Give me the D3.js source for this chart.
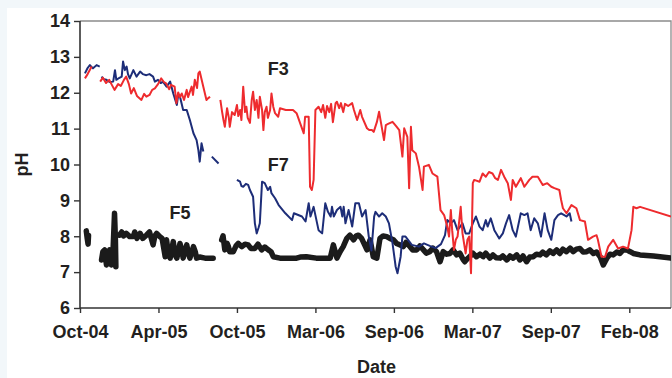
<!DOCTYPE html>
<html><head><meta charset="utf-8">
<script src="https://cdn.jsdelivr.net/npm/d3@7"></script>
<style>
body{margin:0;background:#f2f7fa;}
svg{display:block;font-family:"Liberation Sans",Arial,sans-serif;}
</style>
</head><body>
<svg id="chart" width="672" height="378"></svg>
<script>
// ---------- data ----------
const yTicks = [6, 7, 8, 9, 10, 11, 12, 13, 14];
const xTickDates = ["2004-10-18","2005-04-11","2005-10-03","2006-03-27","2006-09-18","2007-03-12","2007-09-03","2008-02-25"];
const xTickLabels = ["Oct-04","Apr-05","Oct-05","Mar-06","Sep-06","Mar-07","Sep-07","Feb-08"];
const xDomain = ["2004-10-18","2008-05-28"];
const yDomain = [6, 14];

// null marks a gap in the record
const f3 = [
["2004-10-29",12.40],["2004-11-04",12.52],["2004-11-13",12.73],["2004-11-20",null],
["2004-12-02",12.31],["2004-12-08",12.42],["2004-12-15",12.27],["2004-12-22",12.36],["2004-12-28",12.22],
["2005-01-03",12.08],["2005-01-11",12.24],["2005-01-17",12.19],["2005-01-24",12.36],["2005-01-29",12.45],
["2005-02-04",12.24],["2005-02-09",11.98],["2005-02-15",12.13],["2005-02-22",11.91],["2005-03-04",11.80],
["2005-03-10",11.97],["2005-03-15",11.89],["2005-03-22",11.94],["2005-03-28",12.08],["2005-04-03",12.12],
["2005-04-10",12.24],["2005-04-17",12.40],["2005-04-23",12.30],["2005-04-28",12.26],["2005-05-05",12.10],
["2005-05-09",12.22],["2005-05-17",12.17],["2005-05-21",11.71],["2005-05-25",12.01],["2005-05-29",11.88],
["2005-06-02",11.98],["2005-06-07",11.80],["2005-06-13",12.08],["2005-06-16",11.88],["2005-06-24",12.17],
["2005-06-27",11.94],["2005-07-01",12.36],["2005-07-06",12.13],["2005-07-09",12.54],["2005-07-12",12.59],
["2005-07-20",12.17],["2005-07-27",11.80],["2005-07-31",11.85],["2005-08-04",11.89],["2005-08-15",null],
["2005-08-27",11.80],["2005-08-31",11.46],["2005-09-03",11.24],["2005-09-06",11.05],["2005-09-11",11.57],
["2005-09-15",11.30],["2005-09-17",11.05],["2005-09-22",11.46],["2005-09-28",11.38],["2005-10-03",11.66],
["2005-10-06",11.35],["2005-10-10",11.52],["2005-10-13",11.24],["2005-10-17",12.17],["2005-10-21",11.46],
["2005-10-24",11.61],["2005-10-27",11.30],["2005-11-01",11.16],["2005-11-05",11.80],["2005-11-08",12.03],
["2005-11-12",11.52],["2005-11-16",11.80],["2005-11-20",11.30],["2005-11-23",11.89],["2005-11-28",11.52],
["2005-12-01",10.96],["2005-12-04",11.46],["2005-12-08",11.61],["2005-12-11",11.30],["2005-12-16",11.52],
["2005-12-19",11.98],["2005-12-23",11.61],["2005-12-27",11.43],["2006-01-03",11.33],["2006-01-07",11.57],
["2006-01-20",11.52],["2006-02-05",11.52],["2006-02-13",11.43],["2006-03-01",10.87],["2006-03-04",11.33],
["2006-03-12",11.33],["2006-03-15",9.38],["2006-03-19",9.29],["2006-03-23",9.57],["2006-03-27",11.52],
["2006-04-03",11.61],["2006-04-09",11.46],["2006-04-13",11.66],["2006-04-18",11.30],["2006-04-22",11.63],
["2006-04-27",11.46],["2006-05-01",11.69],["2006-05-05",11.18],["2006-05-11",11.71],["2006-05-14",11.75],
["2006-05-19",11.57],["2006-05-23",11.71],["2006-05-28",11.46],["2006-06-01",11.69],["2006-06-08",11.63],
["2006-06-17",11.71],["2006-06-21",11.52],["2006-06-28",11.24],["2006-07-05",11.52],["2006-07-09",11.33],
["2006-07-20",11.01],["2006-07-25",10.96],["2006-07-31",10.96],["2006-08-04",10.91],["2006-08-11",11.18],
["2006-08-16",11.47],["2006-08-20",11.18],["2006-08-27",10.68],["2006-08-31",11.10],["2006-09-05",11.13],
["2006-09-15",11.19],["2006-09-23",11.07],["2006-09-30",10.96],["2006-10-07",10.22],["2006-10-11",11.01],
["2006-10-18",10.77],["2006-10-22",9.34],["2006-10-26",11.05],["2006-10-29",10.40],["2006-11-06",10.31],
["2006-11-13",9.94],["2006-11-21",9.29],["2006-11-24",9.94],["2006-12-05",9.99],["2006-12-13",9.75],
["2006-12-24",9.66],["2006-12-31",8.73],["2007-01-08",8.59],["2007-01-15",8.27],["2007-01-19",7.99],
["2007-01-23",8.73],["2007-01-26",8.17],["2007-01-30",7.62],["2007-02-03",7.90],["2007-02-07",7.99],
["2007-02-14",8.82],["2007-02-18",8.08],["2007-02-25",7.52],["2007-03-01",7.90],["2007-03-05",7.99],
["2007-03-09",6.97],["2007-03-13",9.48],["2007-03-16",9.57],["2007-03-28",9.52],["2007-04-04",9.75],
["2007-04-11",9.66],["2007-04-18",9.79],["2007-04-26",9.75],["2007-05-02",9.62],["2007-05-08",9.57],
["2007-05-15",9.85],["2007-05-22",9.66],["2007-05-30",9.48],["2007-06-06",9.01],["2007-06-10",9.57],
["2007-06-17",9.38],["2007-06-28",9.62],["2007-07-06",9.38],["2007-07-17",9.57],["2007-07-24",9.66],
["2007-08-05",9.66],["2007-08-16",9.43],["2007-08-26",9.48],["2007-09-04",9.38],["2007-09-11",9.34],
["2007-09-22",9.29],["2007-09-26",9.01],["2007-09-30",8.78],["2007-10-08",8.64],["2007-10-19",8.87],
["2007-10-30",8.78],["2007-11-07",8.45],["2007-11-18",8.41],["2007-11-25",7.90],["2007-12-06",7.99],
["2007-12-14",8.03],["2007-12-17",7.90],["2007-12-25",7.43],["2008-01-02",7.43],["2008-01-09",7.71],
["2008-01-20",7.90],["2008-01-31",7.66],["2008-02-11",7.71],["2008-02-22",7.66],["2008-03-01",8.17],
["2008-03-05",8.82],["2008-03-12",8.78],["2008-03-20",8.82],["2008-05-28",8.55]
];

const f7 = [
["2004-10-29",12.54],["2004-11-04",12.69],["2004-11-09",12.77],["2004-11-16",12.68],["2004-11-24",12.77],
["2004-12-01",12.73],["2004-12-03",null],
["2004-12-05",12.45],["2004-12-10",12.38],["2004-12-16",12.36],["2004-12-23",12.30],["2004-12-31",12.31],
["2005-01-04",12.63],["2005-01-07",12.36],["2005-01-13",12.41],["2005-01-19",12.45],["2005-01-22",12.87],
["2005-01-26",12.63],["2005-01-30",12.73],["2005-02-02",12.52],["2005-02-06",12.40],["2005-02-14",12.63],
["2005-02-21",12.45],["2005-03-01",12.59],["2005-03-07",12.52],["2005-03-15",12.49],["2005-03-22",12.52],
["2005-03-30",12.45],["2005-04-03",12.31],["2005-04-10",12.36],["2005-04-16",12.27],["2005-04-21",12.31],
["2005-04-29",12.17],["2005-05-07",12.31],["2005-05-14",11.98],["2005-05-22",11.66],["2005-05-25",11.94],
["2005-05-29",11.89],["2005-06-05",11.52],["2005-06-13",11.52],["2005-06-20",11.24],["2005-06-28",10.87],
["2005-07-05",10.68],["2005-07-09",10.40],["2005-07-12",10.08],["2005-07-16",10.59],["2005-07-20",10.36],
["2005-07-30",null],
["2005-08-08",10.22],["2005-08-23",10.03],["2005-09-10",null],
["2005-10-03",9.57],["2005-10-10",9.52],["2005-10-13",9.40],["2005-10-17",9.38],["2005-10-23",9.46],
["2005-10-28",9.43],["2005-11-01",9.29],["2005-11-08",9.10],["2005-11-12",8.36],["2005-11-16",8.08],
["2005-11-20",8.23],["2005-11-23",8.36],["2005-11-28",9.52],["2005-12-04",9.48],["2005-12-11",9.29],
["2005-12-16",9.38],["2005-12-19",9.20],["2005-12-27",9.06],["2006-01-04",8.87],["2006-01-19",8.64],
["2006-02-03",8.45],["2006-02-07",8.64],["2006-02-25",8.55],["2006-03-05",8.41],["2006-03-12",8.92],
["2006-03-16",8.55],["2006-03-23",8.82],["2006-04-03",8.17],["2006-04-11",8.08],["2006-04-18",8.92],
["2006-04-24",8.68],["2006-04-30",8.55],["2006-05-03",8.82],["2006-05-07",8.55],["2006-05-14",8.73],
["2006-05-22",8.82],["2006-05-26",8.55],["2006-05-29",8.82],["2006-06-02",8.36],["2006-06-09",8.73],
["2006-06-17",8.27],["2006-06-24",8.92],["2006-07-02",8.92],["2006-07-09",8.55],["2006-07-17",8.73],
["2006-07-24",7.99],["2006-07-30",7.60],["2006-08-05",8.55],["2006-08-08",8.68],["2006-08-16",8.55],
["2006-08-23",8.64],["2006-08-31",8.55],["2006-09-07",8.36],["2006-09-15",7.80],["2006-09-22",7.15],
["2006-09-26",6.97],["2006-10-03",7.43],["2006-10-07",7.99],["2006-10-14",7.99],["2006-10-28",7.76],
["2006-11-13",7.71],["2006-11-24",7.80],["2006-12-07",7.73],["2006-12-20",7.67],["2007-01-01",7.78],
["2007-01-10",8.03],["2007-01-15",8.45],["2007-01-23",8.36],["2007-01-30",8.45],["2007-02-07",8.17],
["2007-02-18",8.36],["2007-02-25",8.08],["2007-03-05",8.08],["2007-03-13",8.36],["2007-03-20",8.55],
["2007-03-28",8.27],["2007-04-04",8.17],["2007-04-11",8.45],["2007-04-15",8.27],["2007-04-22",8.50],
["2007-04-30",8.17],["2007-05-11",7.94],["2007-05-19",8.08],["2007-05-26",8.36],["2007-06-02",8.59],
["2007-06-10",8.17],["2007-06-17",7.99],["2007-06-28",8.64],["2007-07-06",8.59],["2007-07-13",8.64],
["2007-07-20",8.17],["2007-07-28",8.50],["2007-08-05",8.36],["2007-08-12",7.99],["2007-08-20",8.64],
["2007-08-27",8.17],["2007-09-04",7.90],["2007-09-11",8.45],["2007-09-19",8.59],["2007-09-26",8.64],
["2007-10-03",8.59],["2007-10-08",8.55],["2007-10-15",8.64],["2007-10-19",8.41]
];

const f5 = [
["2004-11-01",8.15],["2004-11-03",7.95],["2004-11-05",7.78],["2004-11-06",8.02],["2004-11-20",null],
["2004-12-05",7.34],["2004-12-08",7.57],["2004-12-12",7.62],["2004-12-16",7.20],["2004-12-19",7.48],
["2004-12-23",7.62],["2004-12-27",7.20],["2004-12-30",7.39],["2005-01-03",8.64],["2005-01-05",7.90],
["2005-01-06",7.15],["2005-01-10",null],
["2005-01-14",8.03],["2005-01-19",8.12],["2005-01-23",8.01],["2005-01-29",8.08],["2005-02-06",7.99],
["2005-02-14",7.99],["2005-02-17",8.12],["2005-02-22",7.94],["2005-03-01",8.08],["2005-03-07",7.94],
["2005-03-15",8.03],["2005-03-22",8.12],["2005-03-30",7.76],["2005-04-03",8.01],["2005-04-07",8.08],
["2005-04-14",7.99],["2005-04-19",7.94],["2005-04-26",7.43],["2005-04-29",7.90],["2005-05-02",7.62],
["2005-05-07",7.39],["2005-05-14",7.85],["2005-05-18",7.48],["2005-05-22",7.39],["2005-05-29",7.80],
["2005-06-02",7.62],["2005-06-05",7.39],["2005-06-13",7.76],["2005-06-16",7.57],["2005-06-20",7.39],
["2005-06-28",7.71],["2005-07-02",7.57],["2005-07-05",7.39],["2005-07-12",7.42],["2005-07-24",7.39],
["2005-08-11",7.39],["2005-08-20",null],
["2005-08-30",7.90],["2005-09-02",8.01],["2005-09-06",7.62],["2005-09-11",7.80],["2005-09-14",7.71],
["2005-09-17",7.57],["2005-09-25",7.57],["2005-10-01",7.73],["2005-10-06",7.80],["2005-10-14",7.71],
["2005-10-21",7.78],["2005-10-28",7.76],["2005-11-03",7.66],["2005-11-12",7.66],["2005-11-19",7.78],
["2005-11-27",7.62],["2005-12-04",7.70],["2005-12-12",7.62],["2005-12-18",7.57],["2005-12-23",7.43],
["2006-01-07",7.39],["2006-02-13",7.39],["2006-02-21",7.42],["2006-03-07",7.43],["2006-03-29",7.39],
["2006-04-29",7.39],["2006-05-06",7.76],["2006-05-14",7.39],["2006-05-21",7.57],["2006-05-28",7.71],
["2006-06-05",7.94],["2006-06-12",8.03],["2006-06-20",7.90],["2006-06-26",8.01],["2006-07-01",8.03],
["2006-07-08",7.94],["2006-07-14",7.78],["2006-07-20",7.62],["2006-07-27",7.90],["2006-08-03",7.43],
["2006-08-11",7.39],["2006-08-18",7.94],["2006-08-25",8.01],["2006-09-02",7.99],["2006-09-09",7.94],
["2006-09-17",7.90],["2006-09-24",7.80],["2006-10-01",7.76],["2006-10-09",7.71],["2006-10-15",7.83],
["2006-10-24",7.71],["2006-10-30",7.62],["2006-11-08",7.62],["2006-11-15",7.73],["2006-11-23",7.62],
["2006-11-29",7.53],["2006-12-07",7.57],["2006-12-14",7.67],["2006-12-22",7.57],["2006-12-30",7.29],
["2007-01-06",7.57],["2007-01-14",7.50],["2007-01-21",7.52],["2007-01-28",7.62],["2007-02-05",7.48],
["2007-02-12",7.53],["2007-02-20",7.34],["2007-02-23",7.29],["2007-03-03",7.40],["2007-03-06",7.43],
["2007-03-13",7.53],["2007-03-21",7.43],["2007-03-29",7.50],["2007-04-05",7.43],["2007-04-11",7.53],
["2007-04-20",7.39],["2007-04-27",7.48],["2007-05-04",7.40],["2007-05-13",7.39],["2007-05-19",7.45],
["2007-05-28",7.34],["2007-06-04",7.45],["2007-06-11",7.39],["2007-06-19",7.48],["2007-06-26",7.34],
["2007-07-03",7.45],["2007-07-11",7.29],["2007-07-18",7.42],["2007-07-26",7.43],["2007-08-02",7.50],
["2007-08-10",7.48],["2007-08-16",7.56],["2007-08-24",7.48],["2007-09-01",7.59],["2007-09-08",7.52],
["2007-09-16",7.62],["2007-09-23",7.52],["2007-09-30",7.64],["2007-10-08",7.57],["2007-10-16",7.67],
["2007-10-23",7.57],["2007-10-30",7.64],["2007-11-07",7.66],["2007-11-14",7.56],["2007-11-22",7.57],
["2007-11-29",7.62],["2007-12-07",7.52],["2007-12-14",7.56],["2007-12-22",7.43],["2007-12-29",7.20],
["2008-01-06",7.39],["2008-01-13",7.50],["2008-01-20",7.48],["2008-01-28",7.56],["2008-02-04",7.52],
["2008-02-11",7.62],["2008-02-19",7.62],["2008-02-27",7.57],["2008-03-05",7.52],["2008-03-20",7.48],
["2008-04-19",7.45],["2008-05-28",7.39]
];

const seriesLabels = ["F3","F7","F5"];
const labelAnchors = [["2006-01-03",12.5],["2006-01-03",9.83],["2005-05-29",8.48]];

// ---------- drawing ----------
const W = 672, H = 378;
const M = {left: 80, right: 1, top: 21, bottom: 70};
const parse = d3.utcParse("%Y-%m-%d");
const svg = d3.select("#chart");

svg.append("rect").attr("x",7).attr("y",8).attr("width",W-7).attr("height",H-8).attr("fill","#ffffff");

const x = d3.scaleUtc().domain(xDomain.map(parse)).range([M.left, W - M.right]);
const y = d3.scaleLinear().domain(yDomain).range([H - M.bottom, M.top]);

// plot frame (top/right)
svg.append("path")
  .attr("d", `M${x.range()[0]},${y.range()[1]}H${x.range()[1]}V${y.range()[0]}`)
  .attr("fill","none").attr("stroke","#8c8c8c").attr("stroke-width",1.3);

svg.append("clipPath").attr("id","clip").append("rect")
  .attr("x", x.range()[0]).attr("y", y.range()[1])
  .attr("width", x.range()[1]-x.range()[0]).attr("height", y.range()[0]-y.range()[1]);

const line = d3.line()
  .defined(d => d[1] !== null)
  .x(d => x(parse(d[0])))
  .y(d => y(d[1]))
  .curve(d3.curveLinear);

const g = svg.append("g").attr("clip-path","url(#clip)");
g.append("path").datum(f5).attr("d", line).attr("fill","none")
  .attr("stroke","#1b1b1b").attr("stroke-width",5.5).attr("stroke-linejoin","round").attr("stroke-linecap","round");
g.append("path").datum(f7).attr("d", line).attr("fill","none")
  .attr("stroke","#1d2d78").attr("stroke-width",2).attr("stroke-linejoin","round");
g.append("path").datum(f3).attr("d", line).attr("fill","none")
  .attr("stroke","#ee2b2e").attr("stroke-width",2).attr("stroke-linejoin","round");

// axes
const yAxis = d3.axisLeft(y).tickValues(yTicks).tickSize(6).tickPadding(4).tickFormat(d3.format("d"));
const yg = svg.append("g").attr("transform",`translate(${M.left},0)`).call(yAxis);
const xAxis = d3.axisBottom(x).tickValues(xTickDates.map(parse)).tickSize(5).tickPadding(12)
  .tickFormat((d,i) => xTickLabels[i]);
const xg = svg.append("g").attr("transform",`translate(0,${H - M.bottom})`).call(xAxis);

[yg, xg].forEach(a => {
  a.select(".domain").attr("stroke","#333").attr("stroke-width",1.6);
  a.selectAll(".tick line").attr("stroke","#333").attr("stroke-width",1.4);
  a.selectAll("text").attr("fill","#231f20").attr("font-size","18px").attr("font-weight","bold")
    .attr("font-family","'Liberation Sans',Arial,sans-serif");
});
xg.select(".domain").attr("d", `M${x.range()[0]},0H${x.range()[1]}`);
yg.select(".domain").attr("d", `M0,${y.range()[0]}V${y.range()[1]}`);

// axis titles
svg.append("text").attr("x", (x.range()[0]+x.range()[1])/2 + 1).attr("y", 373)
  .attr("text-anchor","middle").attr("font-size","18px").attr("font-weight","bold").attr("fill","#231f20")
  .text("Date");
svg.append("text").attr("transform",`translate(28,${(y.range()[0]+y.range()[1])/2 + 0}) rotate(-90)`)
  .attr("text-anchor","middle").attr("font-size","18px").attr("font-weight","bold").attr("fill","#231f20")
  .text("pH");

// series labels
seriesLabels.forEach((s,i) => {
  svg.append("text").attr("x", x(parse(labelAnchors[i][0]))).attr("y", y(labelAnchors[i][1]))
    .attr("text-anchor","middle").attr("font-size","18px").attr("font-weight","bold").attr("fill","#231f20")
    .text(s);
});
</script>
</body></html>
